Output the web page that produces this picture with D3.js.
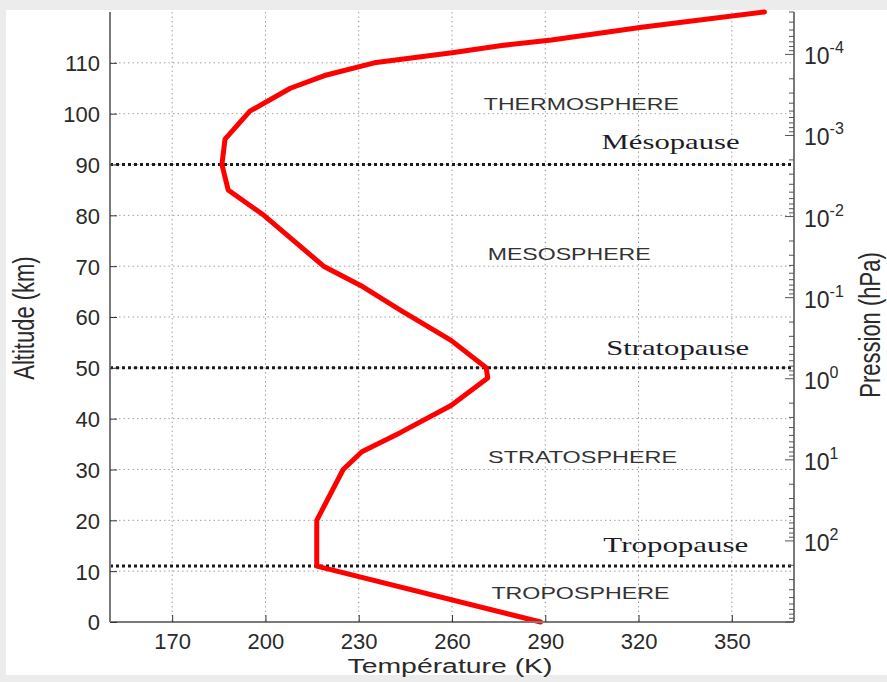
<!DOCTYPE html>
<html>
<head>
<meta charset="utf-8">
<script src="https://cdn.jsdelivr.net/npm/d3@7/dist/d3.min.js"></script>
<style>
  html, body { margin: 0; padding: 0; background: #ececec; }
  svg { display: block; }
  .sans { font-family: "Liberation Sans", Arial, Helvetica, sans-serif; }
  .serif { font-family: "Liberation Serif", "Times New Roman", serif; }
</style>
</head>
<body>
<svg id="chart" width="887" height="682" class="sans"></svg>
<script>
// Temperature profile of the standard atmosphere (K vs km)
const temperature = [288.5, 216.5, 216.5, 225, 231, 243.5, 259.7, 271.5, 271, 259.7, 243.5, 230.6, 218.7, 199.5, 188, 186, 187, 195, 208, 219, 235, 260, 276, 292, 321, 360.5];
const altitude    = [0, 11, 20, 30, 33.5, 37.3, 42.6, 48, 50, 55.4, 61.3, 66.2, 70, 80, 85, 90, 95, 100.5, 105, 107.5, 110, 112, 113.4, 114.5, 117, 120];

// Axis ticks
const tempTicks = [170, 200, 230, 260, 290, 320, 350];
const altTicks = [0, 10, 20, 30, 40, 50, 60, 70, 80, 90, 100, 110];
const pressureExponents = [-4, -3, -2, -1, 0, 1, 2];

// Boundaries between layers (km)
const pauseNames = ["Mésopause", "Stratopause", "Tropopause"];
const pauseAltitudes = [90, 50, 11];
const pauseLabelT = [330.3, 332.6, 332];
const pauseLabelZ = [94.5, 54, 15.1];

// Layer names
const layerNames = ["THERMOSPHERE", "MESOSPHERE", "STRATOSPHERE", "TROPOSPHERE"];
const layerLabelT = [301.6, 297.7, 302, 301.3];
const layerLabelZ = [102, 72.3, 32.4, 5.7];

const svg = d3.select("#chart");
const W = 887, H = 682;
const plotL = 110, plotR = 794, plotT = 12, plotB = 622;

// light frame with a white panel
svg.append("rect").attr("x", 0).attr("y", 0).attr("width", W).attr("height", H).attr("fill", "#ececec");
svg.append("rect").attr("x", 6).attr("y", 10).attr("width", W - 6).attr("height", 665).attr("fill", "#ffffff");

const x = d3.scaleLinear().domain([150, 370]).range([plotL, plotR]);
const y = d3.scaleLinear().domain([0, 120]).range([plotB, plotT]);
const p = d3.scaleLog().domain([1000, 3e-5]).range([plotB, plotT]);

// dotted grid
const grid = svg.append("g").attr("stroke", "#a0a0a0").attr("stroke-width", 1).attr("stroke-dasharray", "1.5,3");
grid.selectAll("line.v").data(tempTicks).join("line").attr("class", "v")
  .attr("x1", d => x(d)).attr("x2", d => x(d)).attr("y1", plotT).attr("y2", plotB);
grid.selectAll("line.h").data(altTicks.filter(d => d > 0)).join("line").attr("class", "h")
  .attr("x1", plotL).attr("x2", plotR).attr("y1", d => y(d)).attr("y2", d => y(d));

// layer boundaries
svg.append("g").selectAll("line").data(pauseAltitudes).join("line")
  .attr("x1", plotL).attr("x2", plotR)
  .attr("y1", d => y(d)).attr("y2", d => y(d))
  .attr("stroke", "#1a1a1a").attr("stroke-width", 3).attr("stroke-dasharray", "3,3");

// temperature curve
const profile = temperature.map((t, i) => [t, altitude[i]]);
svg.append("path").datum(profile)
  .attr("fill", "none").attr("stroke", "#ff0000").attr("stroke-width", 5)
  .attr("stroke-linejoin", "round").attr("stroke-linecap", "round")
  .attr("d", d3.line().x(d => x(d[0])).y(d => y(d[1])));

// axes
const axisColor = "#7a7a7a";
const gx = svg.append("g").attr("transform", `translate(0,${plotB})`)
  .call(d3.axisBottom(x).tickValues(tempTicks).tickSizeInner(-7).tickSizeOuter(0).tickPadding(11));
const gy = svg.append("g").attr("transform", `translate(${plotL},0)`)
  .call(d3.axisLeft(y).tickValues(altTicks).tickSizeInner(-7).tickSizeOuter(0).tickPadding(10));
[gx, gy].forEach(g => {
  g.attr("font-family", null).attr("font-size", null);
  g.select(".domain").attr("stroke", axisColor).attr("stroke-width", 2);
  g.selectAll(".tick line").attr("stroke", "#333");
  g.selectAll(".tick text").attr("fill", "#2a2a2a").style("font-size", "22px");
});
gy.select(".domain").attr("d", `M0,${plotT}V${plotB}`);
gx.select(".domain").attr("d", `M${plotL},0H${plotR}`);
gx.selectAll(".tick text").attr("dy", "0.71em").attr("y", 11);
gy.selectAll(".tick text").attr("dy", "0.36em");

// right pressure axis (log scale)
const gp = svg.append("g").attr("transform", `translate(${plotR},0)`);
gp.append("line").attr("x1", 0).attr("x2", 0).attr("y1", plotT).attr("y2", plotB)
  .attr("stroke", axisColor).attr("stroke-width", 2);
const pTicks = [];
for (let e = -5; e <= 3; e++) {
  for (let m = 1; m <= 9; m++) {
    const v = m * Math.pow(10, e);
    if (v >= 3e-5 && v <= 1000) pTicks.push({ v, major: m === 1 });
  }
}
gp.selectAll("line.tk").data(pTicks).join("line").attr("class", "tk")
  .attr("x1", 0).attr("x2", d => d.major ? -9 : -5)
  .attr("y1", d => p(d.v)).attr("y2", d => p(d.v))
  .attr("stroke", "#555").attr("stroke-width", 1);
const pl = gp.selectAll("text.pl").data(pressureExponents).join("text").attr("class", "pl")
  .attr("x", 10).attr("y", e => p(Math.pow(10, e)) + 10)
  .attr("fill", "#2a2a2a").style("font-size", "23px");
pl.append("tspan").text("10");
pl.append("tspan").attr("dy", -11).style("font-size", "16px").text(e => e);

// axis titles
svg.append("text").attr("x", 450).attr("y", 673).attr("text-anchor", "middle")
  .style("font-size", "20px").attr("fill", "#2a2a2a")
  .attr("textLength", 205).attr("lengthAdjust", "spacingAndGlyphs")
  .text("Température (K)");
svg.append("text").attr("transform", "translate(34,318) scale(1.3,1) rotate(-90)")
  .attr("text-anchor", "middle").style("font-size", "22px").attr("fill", "#2a2a2a")
  .text("Altitude (km)");
svg.append("text").attr("transform", "translate(880,325) scale(1.3,1) rotate(-90)")
  .attr("text-anchor", "middle").style("font-size", "22px").attr("fill", "#2a2a2a")
  .text("Pression (hPa)");

// layer names
const layerWidths = [195, 163, 189, 178];
svg.append("g").selectAll("text").data(layerNames).join("text")
  .attr("x", (d, i) => x(layerLabelT[i]) - layerWidths[i] / 2)
  .attr("y", (d, i) => y(layerLabelZ[i]) + 6)
  .style("font-size", "17px").attr("fill", "#333")
  .attr("textLength", (d, i) => layerWidths[i]).attr("lengthAdjust", "spacingAndGlyphs")
  .text(d => d);

// boundary names
const pauseWidths = [138, 143, 145];
svg.append("g").selectAll("text").data(pauseNames).join("text")
  .attr("class", "serif")
  .attr("x", (d, i) => x(pauseLabelT[i]) - pauseWidths[i] / 2)
  .attr("y", (d, i) => y(pauseLabelZ[i]) + 7)
  .style("font-size", "22px").attr("fill", "#1c1c28")
  .attr("textLength", (d, i) => pauseWidths[i]).attr("lengthAdjust", "spacingAndGlyphs")
  .text(d => d);
</script>
</body>
</html>
